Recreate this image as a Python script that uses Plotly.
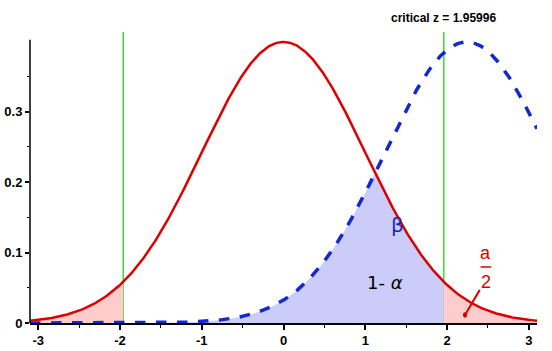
import numpy as np
import plotly.graph_objects as go

# parameters of the two distributions (null and alternative)
null_mean = 0.0
alt_mean = 2.24
sd = 1.0
critical_z = 1.95996
x_min, x_max = -3.1, 3.1
x_ticks = [-3, -2, -1, 0, 1, 2, 3]
y_ticks = [0, 0.1, 0.2, 0.3]
y_tick_labels = ["0", "0.1", "0.2", "0.3"]


def pdf(x, m):
    return np.exp(-0.5 * ((x - m) / sd) ** 2) / (sd * np.sqrt(2 * np.pi))


x = np.linspace(x_min, x_max, 601)
red = pdf(x, null_mean)
blue = pdf(x, alt_mean)

fig = go.Figure()

# blue region: under min(red, blue) up to critical z
mask_b = x <= critical_z
xb = np.append(x[mask_b], critical_z)
yb = np.minimum(pdf(xb, null_mean), pdf(xb, alt_mean))
fig.add_trace(go.Scatter(x=xb, y=yb, fill="tozeroy", mode="none",
                         fillcolor="rgb(204,204,250)", hoverinfo="skip"))

# red tails
xl = np.append(x[x <= -critical_z], -critical_z)
fig.add_trace(go.Scatter(x=xl, y=pdf(xl, null_mean), fill="tozeroy", mode="none",
                         fillcolor="rgb(255,204,204)", hoverinfo="skip"))
xr = np.insert(x[x >= critical_z], 0, critical_z)
fig.add_trace(go.Scatter(x=xr, y=pdf(xr, null_mean), fill="tozeroy", mode="none",
                         fillcolor="rgb(255,204,204)", hoverinfo="skip"))

# curves
fig.add_trace(go.Scatter(x=x, y=red, mode="lines",
                         line=dict(color="rgb(220,0,0)", width=2.5)))
fig.add_trace(go.Scatter(x=x, y=blue, mode="lines",
                         line=dict(color="rgb(20,40,210)", width=3.5, dash="dash")))

y_top = 0.413

shapes = []
for cx in (-critical_z, critical_z):
    shapes.append(dict(type="line", x0=cx, x1=cx, y0=0, y1=y_top, xref="x", yref="y",
                       line=dict(color="rgb(60,220,60)", width=1.5), layer="below"))
# y axis line
shapes.append(dict(type="line", x0=0, x1=0, y0=0, y1=0.402, xref="paper", yref="y",
                   line=dict(color="black", width=1.5)))
# alpha/2 pointer
shapes.append(dict(type="line", x0=2.40, y0=0.047, x1=2.22, y1=0.0114, xref="x", yref="y",
                   line=dict(color="rgb(220,0,0)", width=2)))
shapes.append(dict(type="circle", x0=2.20, x1=2.24, y0=0.0082, y1=0.0146, xref="x", yref="y",
                   fillcolor="rgb(220,0,0)", line=dict(color="rgb(220,0,0)", width=1)))
# fraction bar
shapes.append(dict(type="line", x0=2.41, x1=2.54, y0=0.0795, y1=0.0795, xref="x", yref="y",
                   line=dict(color="rgb(220,0,0)", width=1.5)))

fnt = "Liberation Sans, Arial, sans-serif"
annotations = [
    dict(text="<b>critical z = 1.95996</b>", x=0.815, y=1.048, xref="paper", yref="paper",
         xanchor="center", yanchor="middle",
         showarrow=False, font=dict(family=fnt, size=12, color="black")),
    dict(text="β", x=1.39, y=0.139, xref="x", yref="y", showarrow=False,
         font=dict(family="DejaVu Sans", size=20, color="rgb(30,40,190)")),
    dict(text="1- <i>α</i>", x=1.24, y=0.057, xref="x", yref="y", showarrow=False,
         font=dict(family="DejaVu Sans", size=18, color="black")),
    dict(text="a", x=2.47, y=0.099, xref="x", yref="y", showarrow=False,
         font=dict(family=fnt, size=18, color="rgb(220,0,0)")),
    dict(text="2", x=2.48, y=0.058, xref="x", yref="y", showarrow=False,
         font=dict(family=fnt, size=18, color="rgb(220,0,0)")),
]

fig.update_layout(
    width=552, height=351,
    margin=dict(l=30, r=15, t=32, b=28),
    paper_bgcolor="white", plot_bgcolor="white",
    showlegend=False,
    shapes=shapes, annotations=annotations,
    xaxis=dict(range=[x_min, x_max], tickvals=x_ticks, ticktext=["<b>%d</b>" % v for v in x_ticks],
               automargin=False,
               showgrid=False, zeroline=False, showline=True, linecolor="black", linewidth=1.5,
               ticks="outside", ticklen=5, tickcolor="black", tickwidth=1.5,
               minor=dict(dtick=0.5, ticks="outside", ticklen=3, tickcolor="black", tickwidth=1),
               tickfont=dict(family=fnt, size=13, color="black")),
    yaxis=dict(range=[0, y_top], tickvals=y_ticks, ticktext=["<b>%s</b>" % t for t in y_tick_labels],
               automargin=False,
               showgrid=False, zeroline=False, showline=False,
               ticks="outside", ticklen=4, tickcolor="black", tickwidth=1.5,
               minor=dict(tickvals=[0.05, 0.15, 0.25, 0.35], ticks="outside", ticklen=2,
                          tickcolor="black", tickwidth=1),
               tickfont=dict(family=fnt, size=13, color="black")),
)

fig.write_html("out.html", config={"displayModeBar": False},
               post_script="document.body.style.margin='0px';document.body.style.overflow='hidden';")
